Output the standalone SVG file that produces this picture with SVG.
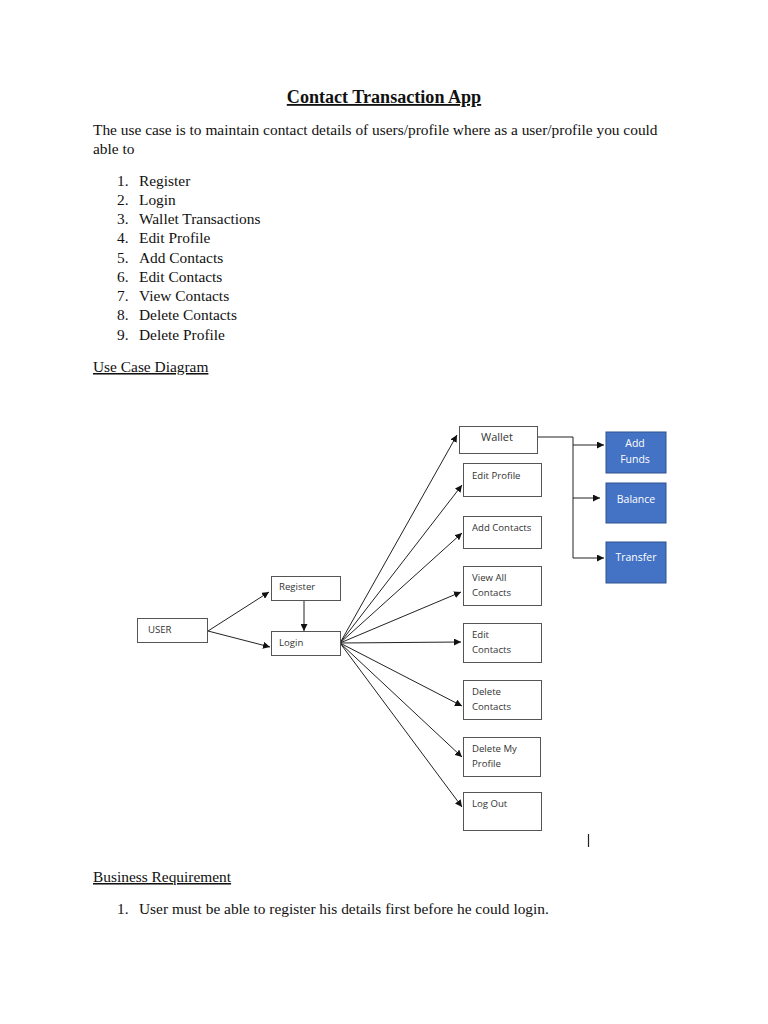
<svg xmlns="http://www.w3.org/2000/svg" width="768" height="1024" viewBox="0 0 768 1024">
<defs>
<marker id="ah" viewBox="0 0 10 10" refX="10" refY="5" markerWidth="7" markerHeight="7" markerUnits="userSpaceOnUse" orient="auto">
<path d="M0,0 L10,5 L0,10 z" fill="#111"/>
</marker>
</defs>
<style>
.doc{font-family:"Liberation Serif","Times New Roman",serif;font-size:15.4px;fill:#111}
.title{font-family:"Liberation Serif","Times New Roman",serif;font-size:18.1px;font-weight:bold;fill:#111}
.box{fill:#fff;stroke:#555;stroke-width:1}
.bbox{fill:#4472C4;stroke:#2F528F;stroke-width:1}
.lbl{font-family:"Open Sans","Noto Sans",sans-serif;font-size:9.6px;fill:#333}
.wlbl{font-family:"Open Sans","Noto Sans",sans-serif;font-size:10.5px;fill:#fff}
.ln{stroke:#222;stroke-width:1;fill:none}
.ar{stroke:#222;stroke-width:1;fill:none;marker-end:url(#ah)}
</style>
<rect width="768" height="1024" fill="#fff"/>
<g id="text">
<text class="title" x="384" y="103" text-anchor="middle" text-decoration="underline">Contact Transaction App</text>
<text class="doc" x="93" y="135">The use case is to maintain contact details of users/profile where as a user/profile you could</text>
<text class="doc" x="93" y="154">able to</text>
<text class="doc" x="117" y="186">1.</text><text class="doc" x="139" y="186">Register</text>
<text class="doc" x="117" y="205">2.</text><text class="doc" x="139" y="205">Login</text>
<text class="doc" x="117" y="224">3.</text><text class="doc" x="139" y="224">Wallet Transactions</text>
<text class="doc" x="117" y="243">4.</text><text class="doc" x="139" y="243">Edit Profile</text>
<text class="doc" x="117" y="263">5.</text><text class="doc" x="139" y="263">Add Contacts</text>
<text class="doc" x="117" y="282">6.</text><text class="doc" x="139" y="282">Edit Contacts</text>
<text class="doc" x="117" y="301">7.</text><text class="doc" x="139" y="301">View Contacts</text>
<text class="doc" x="117" y="320">8.</text><text class="doc" x="139" y="320">Delete Contacts</text>
<text class="doc" x="117" y="340">9.</text><text class="doc" x="139" y="340">Delete Profile</text>
<text class="doc" x="93" y="372" text-decoration="underline">Use Case Diagram</text>
<text class="doc" x="93" y="882" text-decoration="underline">Business Requirement</text>
<text class="doc" x="117" y="914">1.</text><text class="doc" x="139" y="914">User must be able to register his details first before he could login.</text>
<line x1="588.5" y1="834" x2="588.5" y2="847" stroke="#222" stroke-width="1.2"/>
</g>
<g id="connectors">
<line class="ar" x1="208" y1="631" x2="269" y2="592"/>
<line class="ar" x1="208" y1="631" x2="270" y2="647"/>
<line class="ar" x1="304" y1="600" x2="304" y2="631"/>
<line class="ar" x1="340" y1="643" x2="457" y2="435"/>
<line class="ar" x1="340" y1="643" x2="462" y2="485"/>
<line class="ar" x1="340" y1="643" x2="462" y2="533"/>
<line class="ar" x1="340" y1="643" x2="461" y2="592"/>
<line class="ar" x1="340" y1="643" x2="461" y2="642"/>
<line class="ar" x1="340" y1="643" x2="462" y2="706"/>
<line class="ar" x1="340" y1="643" x2="462" y2="757"/>
<line class="ar" x1="340" y1="643" x2="462" y2="807"/>
<polyline class="ln" points="537,437 573,437 573,558"/>
<line class="ar" x1="573" y1="445" x2="604" y2="445"/>
<line class="ar" x1="573" y1="498" x2="600" y2="498"/>
<line class="ar" x1="573" y1="558" x2="604" y2="558"/>
</g>
<g id="user"><rect class="box" x="137.5" y="618.5" width="70" height="24"/><text class="lbl" x="148" y="633">USER</text></g>
<g id="register"><rect class="box" x="271.5" y="576.5" width="69" height="24"/><text class="lbl" x="279" y="590">Register</text></g>
<g id="login"><rect class="box" x="271.5" y="631.5" width="69" height="24"/><text class="lbl" x="279" y="646">Login</text></g>
<g id="wallet"><rect class="box" x="459.5" y="426.5" width="78" height="27"/><text class="lbl" x="497" y="441" text-anchor="middle" style="font-size:11px">Wallet</text></g>
<g id="edit-profile"><rect class="box" x="463.5" y="463.5" width="78" height="33"/><text class="lbl" x="472" y="479">Edit Profile</text></g>
<g id="add-contacts"><rect class="box" x="463.5" y="516.5" width="78" height="32"/><text class="lbl" x="472" y="531">Add Contacts</text></g>
<g id="view-all-contacts"><rect class="box" x="463.5" y="566.5" width="78" height="39"/><text class="lbl" x="472" y="581">View All</text><text class="lbl" x="472" y="596">Contacts</text></g>
<g id="edit-contacts"><rect class="box" x="463.5" y="623.5" width="78" height="39"/><text class="lbl" x="472" y="638">Edit</text><text class="lbl" x="472" y="653">Contacts</text></g>
<g id="delete-contacts"><rect class="box" x="463.5" y="680.5" width="78" height="39"/><text class="lbl" x="472" y="695">Delete</text><text class="lbl" x="472" y="710">Contacts</text></g>
<g id="delete-my-profile"><rect class="box" x="463.5" y="737.5" width="77" height="39"/><text class="lbl" x="472" y="752">Delete My</text><text class="lbl" x="472" y="767">Profile</text></g>
<g id="log-out"><rect class="box" x="463.5" y="792.5" width="78" height="38"/><text class="lbl" x="472" y="807">Log Out</text></g>
<g id="add-funds"><rect class="bbox" x="606" y="432" width="60" height="41"/><text class="wlbl" x="635" y="447" text-anchor="middle">Add</text><text class="wlbl" x="635" y="463" text-anchor="middle">Funds</text></g>
<g id="balance"><rect class="bbox" x="606" y="483" width="60" height="40"/><text class="wlbl" x="636" y="503" text-anchor="middle">Balance</text></g>
<g id="transfer"><rect class="bbox" x="606" y="542" width="60" height="41"/><text class="wlbl" x="636" y="561" text-anchor="middle">Transfer</text></g>
</svg>
